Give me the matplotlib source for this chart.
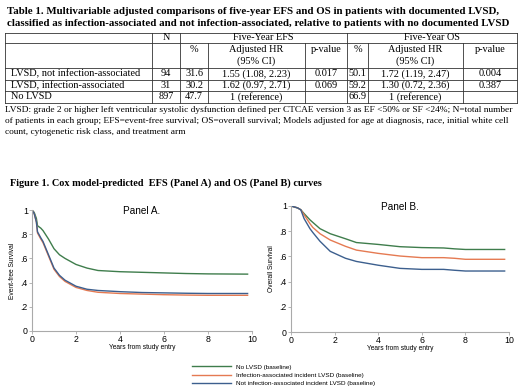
import numpy as np
import matplotlib
matplotlib.use("Agg")
import matplotlib.pyplot as plt
from matplotlib.lines import Line2D

# ---- table data ----
row_names = ["LVSD, not infection-associated", "LVSD, infection-associated", "No LVSD"]
n_pts = ["94", "31", "897"]
efs_pct = ["31.6", "30.2", "47.7"]
efs_hr = ["1.55 (1.08, 2.23)", "1.62 (0.97, 2.71)", "1 (reference)"]
efs_p = ["0.017", "0.069", ""]
os_pct = ["50.1", "59.2", "66.9"]
os_hr = ["1.72 (1.19, 2.47)", "1.30 (0.72, 2.36)", "1 (reference)"]
os_p = ["0.004", "0.387", ""]

title_lines = [
    "Table 1. Multivariable adjusted comparisons of five-year EFS and OS in patients with documented LVSD,",
    "classified as infection-associated and not infection-associated, relative to patients with no documented LVSD",
]
foot_lines = [
    "LVSD: grade 2 or higher left ventricular systolic dysfunction defined per CTCAE version 3 as EF <50% or SF <24%; N=total number",
    "of patients in each group; EFS=event-free survival; OS=overall survival; Models adjusted for age at diagnosis, race, initial white cell",
    "count, cytogenetic risk class, and treatment arm",
]
fig_title = "Figure 1. Cox model-predicted  EFS (Panel A) and OS (Panel B) curves"

# ---- curve data ----
t_efs = [0, 0.1, 0.2, 0.25, 0.4, 0.5, 0.75, 1.0, 1.25, 1.5, 2.0, 2.5, 3.0, 4.0, 5.0, 6.0, 7.0, 8.0, 9.8]
efs_none = [1.0, 0.98, 0.93, 0.87, 0.85, 0.83, 0.76, 0.68, 0.63, 0.60, 0.55, 0.52, 0.50, 0.49, 0.485, 0.48, 0.475, 0.472, 0.47]
efs_inf = [1.0, 0.97, 0.90, 0.81, 0.76, 0.73, 0.62, 0.51, 0.45, 0.41, 0.36, 0.335, 0.32, 0.31, 0.305, 0.30, 0.297, 0.295, 0.295]
efs_notinf = [1.0, 0.97, 0.90, 0.82, 0.77, 0.74, 0.63, 0.52, 0.46, 0.42, 0.37, 0.345, 0.335, 0.325, 0.318, 0.315, 0.312, 0.31, 0.31]

t_os = [0, 0.3, 0.45, 0.6, 0.87, 1.0, 1.33, 1.8, 2.5, 3.0, 4.0, 5.0, 6.0, 7.0, 7.5, 8.0, 9.8]
os_none = [1.0, 0.985, 0.97, 0.94, 0.89, 0.87, 0.82, 0.78, 0.74, 0.71, 0.695, 0.677, 0.67, 0.667, 0.66, 0.655, 0.655]
os_inf = [1.0, 0.985, 0.97, 0.93, 0.86, 0.83, 0.78, 0.73, 0.68, 0.65, 0.624, 0.603, 0.59, 0.59, 0.585, 0.577, 0.577]
os_notinf = [1.0, 0.985, 0.97, 0.90, 0.82, 0.79, 0.72, 0.64, 0.585, 0.56, 0.53, 0.505, 0.497, 0.497, 0.49, 0.484, 0.484]

legend_labels = ["No LVSD (baseline)",
                 "Infection-associated incident LVSD (baseline)",
                 "Not infection-associated incident LVSD (baseline)"]
colors = ["#3f7d4c", "#e57a52", "#3c5f8e"]

W, H = 520, 391
fig = plt.figure(figsize=(W / 100, H / 100), dpi=100)

# overlay in pixel units for the table and text blocks
ov = fig.add_axes([0, 0, 1, 1])
ov.set_xlim(0, W)
ov.set_ylim(H, 0)
ov.axis("off")

serif = "Liberation Serif"
for i, line in enumerate(title_lines):
    ov.text(7, 11 + 12 * i, line, family=serif, fontsize=7.8, fontweight="bold", va="center", ha="left")

# table grid
xs = [5, 152, 180, 208, 305, 347, 368, 463, 517]
ys = [33, 43, 68, 79.5, 91, 102.5]
lc = "#333333"
lw = 0.6
for y in ys:
    ov.plot([xs[0], xs[-1]], [y, y], color=lc, lw=lw)
for x in [xs[0], xs[1], xs[2], xs[5], xs[-1]]:
    ov.plot([x, x], [ys[0], ys[-1]], color=lc, lw=lw)
for x in [xs[3], xs[4], xs[6], xs[7]]:
    ov.plot([x, x], [ys[1], ys[-1]], color=lc, lw=lw)

fs = 7.4
def cx(a, b):
    return (xs[a] + xs[b]) / 2

ov.text(cx(1, 2), 38, "N", family=serif, fontsize=fs, ha="center", va="center")
ov.text(cx(2, 5), 38, "Five-Year EFS", family=serif, fontsize=fs, ha="center", va="center")
ov.text(cx(5, 8), 38, "Five-Year OS", family=serif, fontsize=fs, ha="center", va="center")
for a in (2, 5):
    ov.text(cx(a, a + 1), 50, "%", family=serif, fontsize=fs, ha="center", va="center")
    ov.text(cx(a + 1, a + 2), 50, "Adjusted HR", family=serif, fontsize=fs, ha="center", va="center")
    ov.text(cx(a + 1, a + 2), 61, "(95% CI)", family=serif, fontsize=fs, ha="center", va="center")
    ov.text(cx(a + 2, a + 3), 50, "p-value", family=serif, fontsize=fs, ha="center", va="center")

cols = [n_pts, efs_pct, efs_hr, efs_p, os_pct, os_hr, os_p]
for r in range(len(row_names)):
    yc = (ys[2 + r] + ys[3 + r]) / 2
    ov.text(11, yc, row_names[r], family=serif, fontsize=fs, ha="left", va="center")
    for c, vals in enumerate(cols):
        ov.text(cx(c + 1, c + 2), yc, vals[r], family=serif, fontsize=fs, ha="center", va="center")

for i, line in enumerate(foot_lines):
    ov.text(5, 110 + 11 * i, line, family=serif, fontsize=6.75, ha="left", va="center")

ov.text(10, 183, fig_title, family=serif, fontsize=7.4, fontweight="bold", ha="left", va="center")

# ---- survival panels ----
def px_axes(x0, x1, ytop, ybot):
    return fig.add_axes([x0 / W, 1 - ybot / H, (x1 - x0) / W, (ybot - ytop) / H])

panels = [
    (px_axes(32, 252, 210, 331), t_efs, [efs_none, efs_inf, efs_notinf], "Event-free Survival", "Panel A."),
    (px_axes(291, 509, 206, 332), t_os, [os_none, os_inf, os_notinf], "Overall Survival", "Panel B."),
]
sans = "Liberation Sans"
for ax, t, series, ylab, ptitle in panels:
    for s, col in zip(series, colors):
        ax.plot(t, s, color=col, lw=1.0)
    ax.set_xlim(0, 10)
    ax.set_ylim(0, 1)
    ax.set_xticks([0, 2, 4, 6, 8, 10])
    ax.set_yticks([0, 0.2, 0.4, 0.6, 0.8, 1])
    ax.set_yticklabels(["0", ".2", ".4", ".6", ".8", "1"])
    for lab in ax.get_xticklabels() + ax.get_yticklabels():
        lab.set_family(sans)
        lab.set_fontsize(6.3)
    ax.tick_params(length=2, width=0.5, color="#999999", pad=1)
    for side in ("top", "right"):
        ax.spines[side].set_visible(False)
    for side in ("left", "bottom"):
        ax.spines[side].set_color("#aaaaaa")
        ax.spines[side].set_linewidth(0.8)
    ax.set_xlabel("Years from study entry", family=sans, fontsize=4.8, labelpad=0)
    ax.set_ylabel(ylab, family=sans, fontsize=4.8, labelpad=3)
    ax.text(0.5, 0.99, ptitle, transform=ax.transAxes, family=sans, fontsize=7.2, ha="center", va="center")
    ax.patch.set_alpha(0)

handles = [Line2D([0], [0], color=c, lw=1.0) for c in colors]
fig.legend(handles, legend_labels, loc="center left", bbox_to_anchor=(189 / W, 1 - 375 / H),
           frameon=False, prop={"family": sans, "size": 4.6}, handlelength=6,
           handletextpad=0.8, labelspacing=0.4, borderpad=0)

fig.savefig("out.png", dpi=100)
